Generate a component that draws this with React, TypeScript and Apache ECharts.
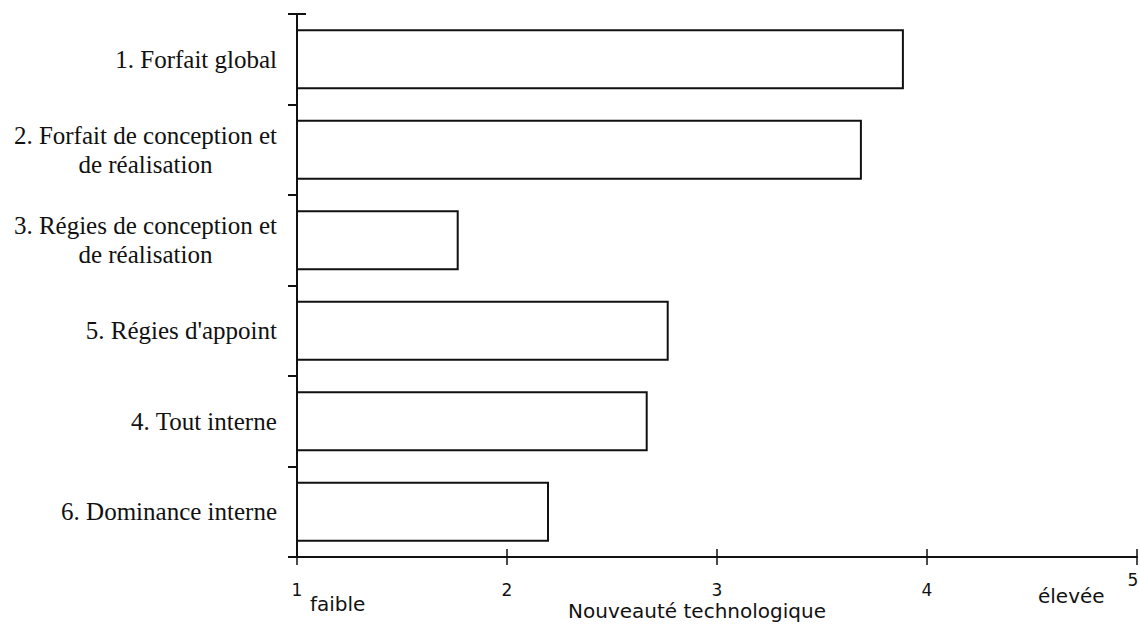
import React, { useEffect, useRef } from "react";
import * as echarts from "echarts";

const categories = [
  "1. Forfait global",
  "2. Forfait de conception et\nde réalisation",
  "3. Régies de conception et\nde réalisation",
  "5. Régies d'appoint",
  "4. Tout interne",
  "6. Dominance interne",
];
const values = [3.89, 3.69, 1.77, 2.77, 2.67, 2.2];
const xMin = 1;
const xMax = 5;
const xInterval = 1;
const axisTitle = "Nouveauté technologique";
const lowLabel = "faible";
const highLabel = "élevée";

const SERIF = "'Liberation Serif', 'Times New Roman', serif";
const SANS = "'DejaVu Sans', 'Open Sans', sans-serif";

export default function App() {
  const ref = useRef<HTMLDivElement>(null);
  useEffect(() => {
    if (!ref.current) return;
    const chart = echarts.init(ref.current, null, { renderer: "svg" });
    const axisColor = "#111";
    chart.setOption({
      animation: false,
      backgroundColor: "#fff",
      grid: {
        left: 297,
        right: 3,
        top: 14,
        bottom: 68,
        containLabel: false,
        outerBoundsMode: "none",
      },
      xAxis: [
        {
          type: "value",
          min: xMin,
          max: xMax,
          interval: xInterval,
          axisLine: { show: true, lineStyle: { color: axisColor, width: 2 } },
          axisTick: { show: true, inside: false, length: 8, lineStyle: { color: axisColor, width: 1.5 } },
          splitLine: { show: false },
          axisLabel: {
            margin: 33,
            verticalAlign: "middle",
            fontFamily: SANS,
            fontSize: 17,
            color: axisColor,
            lineHeight: 20,
            formatter: (v: number) => (v === xMax ? `{e|${v}}\n\u00a0` : String(v)),
            rich: {
              e: {
                fontFamily: SANS,
                fontSize: 17,
                color: axisColor,
                padding: [0, 8, 0, 0],
              },
            },
          },
          name: axisTitle,
          nameLocation: "middle",
          nameGap: 44,
          nameMoveOverlap: false,
          nameTextStyle: {
            fontFamily: SANS,
            fontSize: 20,
            color: axisColor,
            padding: [0, 40, 0, 0],
          },
        },
        {
          type: "value",
          min: xMin,
          max: xMax,
          interval: xInterval,
          position: "bottom",
          axisLine: { show: false },
          axisTick: { show: true, inside: true, length: 8, lineStyle: { color: axisColor, width: 1.5 } },
          splitLine: { show: false },
          axisLabel: { show: false },
        },
      ],
      yAxis: {
        type: "category",
        inverse: true,
        data: categories,
        axisLine: { show: true, lineStyle: { color: axisColor, width: 2 } },
        axisTick: { show: true, length: 9, lineStyle: { color: axisColor, width: 2 } },
        splitLine: { show: false },
        axisLabel: {
          margin: 20,
          color: axisColor,
          fontFamily: SERIF,
          fontSize: 25,
          lineHeight: 29,
          formatter: (v: string) =>
            v
              .split("\n")
              .map((l) => `{a|${l}}`)
              .join("\n"),
          rich: {
            a: {
              align: "center",
              fontFamily: SERIF,
              fontSize: 25,
              lineHeight: 29,
              color: axisColor,
            },
          },
        },
      },
      series: [
        {
          type: "bar",
          xAxisIndex: 0,
          data: values,
          barWidth: 60,
          itemStyle: { color: "#fff", borderColor: axisColor, borderWidth: 2 },
        },
      ],
      graphic: [
        {
          type: "line",
          shape: { x1: 297, y1: 14, x2: 306, y2: 14 },
          style: { stroke: axisColor, lineWidth: 2 },
        },
        {
          type: "text",
          x: 310,
          y: 604,
          style: {
            text: lowLabel,
            font: `20px ${SANS}`,
            fill: axisColor,
            verticalAlign: "middle",
            align: "left",
          },
        },
        {
          type: "text",
          x: 1038,
          y: 596,
          style: {
            text: highLabel,
            font: `20px ${SANS}`,
            fill: axisColor,
            verticalAlign: "middle",
            align: "left",
          },
        },
      ],
    });
    return () => chart.dispose();
  }, []);
  return (
    <div
      ref={ref}
      style={{ position: "absolute", left: 0, top: 0, width: 1140, height: 625 }}
    />
  );
}
